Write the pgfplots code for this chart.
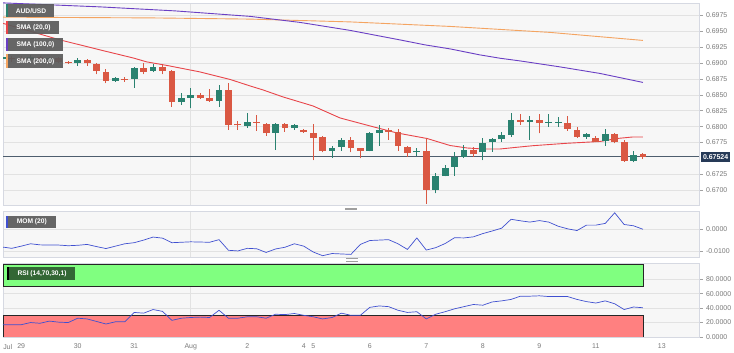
\documentclass[border=0pt]{standalone}
\usepackage{fontspec}
\setmainfont{Liberation Sans}
\usepackage{pgfplots}
\usepackage{pgfplotstable}
\pgfplotsset{compat=1.18}

\definecolor{cgreen}{HTML}{2A8270}
\definecolor{cred}{HTML}{DA5843}
\definecolor{sma20}{HTML}{E8454A}
\definecolor{sma100}{HTML}{6A3FC4}
\definecolor{sma200}{HTML}{F4A461}
\definecolor{closeln}{HTML}{4E5E6E}
\definecolor{tagblue}{HTML}{263A57}
\definecolor{panelbg}{HTML}{F7F7F7}
\definecolor{panelbd}{HTML}{D6D9E2}
\definecolor{gridc}{HTML}{E2E2E2}
\definecolor{ticklbl}{HTML}{7A7A7A}
\definecolor{boxgray}{HTML}{5C5C5C}
\definecolor{indblue}{HTML}{4050D0}
\definecolor{rsigreen}{HTML}{80FF80}
\definecolor{rsired}{HTML}{FF8080}
\definecolor{rsibox}{HTML}{2E5C30}

% candles: i open high low close
\pgfplotstableread{
i O H L C
-7 0.69064 0.69174 0.69049 0.69096
-4 0.69057 0.69127 0.69033 0.69088
-2 0.69049 0.69096 0.69033 0.69072
1 0.68997 0.69085 0.68959 0.69049
5 0.68719 0.68774 0.68703 0.68758
7 0.68750 0.68943 0.68613 0.68918
9 0.68876 0.68981 0.68855 0.68943
12 0.68388 0.68525 0.68341 0.68456
13 0.68456 0.68604 0.68289 0.68491
16 0.68404 0.68656 0.68314 0.68577
19 0.68016 0.68211 0.67984 0.68079
22 0.67906 0.68050 0.67634 0.68042
24 0.67975 0.68038 0.67948 0.68022
28 0.67618 0.67701 0.67513 0.67670
29 0.67686 0.67827 0.67618 0.67791
32 0.67618 0.67912 0.67610 0.67896
33 0.67906 0.68027 0.67701 0.67948
37 0.67597 0.67660 0.67544 0.67618
39 0.67005 0.67267 0.66953 0.67225
40 0.67230 0.67398 0.67217 0.67355
41 0.67371 0.67597 0.67225 0.67528
42 0.67528 0.67712 0.67513 0.67634
44 0.67597 0.67818 0.67476 0.67739
45 0.67755 0.67815 0.67607 0.67807
46 0.67802 0.67912 0.67764 0.67870
47 0.67870 0.68220 0.67843 0.68105
49 0.68074 0.68173 0.67791 0.68101
51 0.68063 0.68195 0.68000 0.68074
52 0.68066 0.68157 0.68000 0.68074
55 0.67843 0.67896 0.67807 0.67881
57 0.67775 0.67959 0.67697 0.67881
60 0.67461 0.67618 0.67440 0.67555
}\greenc

\pgfplotstableread{
i O H L C
-6 0.69072 0.69112 0.69017 0.69057
-5 0.69080 0.69112 0.69033 0.69049
-3 0.69088 0.69104 0.69025 0.69049
-1 0.69072 0.69088 0.69002 0.69017
0 0.69022 0.69033 0.68986 0.68997
2 0.69049 0.69064 0.68959 0.68997
3 0.68981 0.68994 0.68824 0.68876
4 0.68865 0.68907 0.68682 0.68719
6 0.68755 0.68786 0.68708 0.68745
8 0.68928 0.68997 0.68824 0.68865
10 0.68943 0.68970 0.68824 0.68876
11 0.68876 0.68891 0.68314 0.68388
14 0.68491 0.68522 0.68436 0.68447
15 0.68447 0.68588 0.68393 0.68404
17 0.68577 0.68682 0.67948 0.68027
18 0.68035 0.68090 0.67948 0.68019
20 0.68069 0.68184 0.67932 0.68058
21 0.68042 0.68050 0.67858 0.67896
23 0.68042 0.68053 0.67921 0.67975
25 0.67948 0.67964 0.67901 0.67912
26 0.67896 0.68042 0.67476 0.67827
27 0.67833 0.67858 0.67597 0.67618
30 0.67791 0.67843 0.67597 0.67660
31 0.67657 0.67665 0.67503 0.67618
34 0.67948 0.67975 0.67791 0.67921
35 0.67921 0.67964 0.67618 0.67701
36 0.67686 0.67697 0.67524 0.67591
38 0.67618 0.67818 0.66785 0.67005
43 0.67634 0.67686 0.67524 0.67566
48 0.68105 0.68195 0.68027 0.68074
50 0.68101 0.68195 0.67896 0.68053
53 0.68063 0.68173 0.67932 0.67964
54 0.67948 0.68000 0.67827 0.67843
56 0.67827 0.67858 0.67755 0.67764
58 0.67881 0.67896 0.67739 0.67764
59 0.67764 0.67791 0.67450 0.67461
61 0.67563 0.67582 0.67492 0.67524
}\redc

\pgfplotstableread{
i p
-6.93 0.69623
-0.88 0.69363
3.37 0.69206
6.87 0.69080
8.35 0.69017
10.47 0.68962
13.98 0.68860
17.17 0.68742
19.29 0.68640
20.67 0.68577
22.79 0.68467
25.98 0.68325
28.84 0.68137
32.03 0.68011
34.89 0.67901
38.08 0.67814
40.52 0.67704
42.32 0.67665
44.02 0.67649
45.83 0.67649
47.95 0.67681
49.33 0.67701
52.94 0.67739
56.44 0.67767
58.25 0.67814
59.94 0.67838
61.00 0.67838
}\smaA

\pgfplotstableread{
i p
-6.93 0.69945
3.37 0.69882
11.33 0.69819
19.29 0.69733
24.6 0.69638
29.9 0.69513
35.21 0.69363
37.87 0.69285
40.52 0.69222
43.71 0.69127
45.83 0.69075
47.95 0.69033
52.2 0.68939
56.44 0.68836
61.0 0.68695
}\smaB

\pgfplotstableread{
i p
-6.93 0.69720
8.67 0.69709
19.29 0.69690
29.9 0.69646
40.52 0.69575
51.14 0.69481
61.0 0.69355
}\smaC

\pgfplotstableread{
i v
-7 -0.0082
-6 -0.0088
-5 -0.0078
-4 -0.0067
-3 -0.0072
-2 -0.0073
-1 -0.0073
0 -0.0076
1 -0.0074
2 -0.0070
3 -0.0080
4 -0.0089
5 -0.0078
6 -0.0067
7 -0.0062
8 -0.0050
9 -0.0036
10 -0.0041
11 -0.0062
12 -0.0060
13 -0.0058
14 -0.0059
15 -0.0060
16 -0.0048
17 -0.0097
18 -0.0100
19 -0.0088
20 -0.0090
21 -0.0107
22 -0.0091
23 -0.0083
24 -0.0067
25 -0.0078
26 -0.0105
27 -0.0122
28 -0.0112
29 -0.0114
30 -0.0116
31 -0.0070
32 -0.0052
33 -0.0050
34 -0.0048
35 -0.0067
36 -0.0093
37 -0.0040
38 -0.0096
39 -0.0085
40 -0.0066
41 -0.0039
42 -0.0040
43 -0.0035
44 -0.0020
45 -0.0008
46 0.0005
47 0.0046
48 0.0039
49 0.0033
50 0.0040
51 0.0033
52 0.0014
53 0.0002
54 -0.0006
55 0.0019
56 0.0019
57 0.0027
58 0.0076
59 0.0022
60 0.0016
61 0.0000
}\momdata

\pgfplotstableread{
i v
-7 17
-6 17
-5 17
-4 20
-3 19
-2 22
-1 20.5
0 20
1 26
2 25
3 21.5
4 18
5 21
6 21
7 34
8 33
9 38
10 35.5
11 23
12 26
13 27
14 27.5
15 27
16 37
17 26
18 26
19 28
20 28
21 26
22 31.5
23 31
24 32.5
25 30
26 28
27 25
28 27
29 33
30 30
31 30
32 41
33 43
34 42
35 37
36 34
37 35
38 25
39 31.5
40 35
41 39
42 42
43 45
44 44
45 48.5
46 50
47 52
48 56.5
49 56.5
50 57
51 56
52 56
53 56
54 52
55 49
56 47
57 50
58 46
59 38
60 41.5
61 40.5
}\rsidata

\pgfplotsset{
  panel/.style={
    scale only axis, anchor=south west, width=696bp,
    xmin=-6.93, xmax=66.95,
    axis background/.style={fill=panelbg},
    axis line style={draw=panelbd, line width=0.7bp},
    ytick pos=right, yticklabel pos=right,
    tick align=outside, major tick length=3.5bp,
    ytick style={draw=ticklbl!70, line width=0.5bp},
    xtick style={draw=none},
    ymajorgrids,
    grid style={draw=gridc, line width=0.6bp},
    scaled y ticks=false,
    yticklabel style={font=\fontsize{7}{8}\selectfont, text=ticklbl,
      /pgf/number format/fixed, /pgf/number format/fixed zerofill,
      /pgf/number format/precision=4, /pgf/number format/assume math mode=true},
    xticklabel style={font=\fontsize{7}{8}\selectfont, text=ticklbl},
    clip mode=individual,
  },
  wick/.style={only marks, mark=*, mark size=0pt, mark options={draw=none, fill=none},
    error bars/.cd, y dir=plus, y explicit,
    error mark=none, error bar style={draw=#1, line width=1bp}},
  body/.style={only marks, mark=*, mark size=0pt, mark options={draw=none, fill=none},
    error bars/.cd, y dir=plus, y explicit,
    error mark=none, error bar style={draw=#1, line width=6.8bp, line cap=butt}},
}

\newcommand\chartlabel[7]{%
  \fill[#1, opacity=0.93] (#2,#3) rectangle (#4,#5);
  \fill[#6] (#2,#3) rectangle ({#2+2},#5);
  \node[text=white, font=\fontsize{6.7}{7}\selectfont\bfseries, inner sep=0pt]
    at ({(#2+#4)/2+1},{(#3+#5)/2}) {#7};
}

\begin{document}
\begin{tikzpicture}
\fill[white] (0bp,0bp) rectangle (734bp,353bp);
\useasboundingbox (0bp,0bp) rectangle (734bp,353bp);

% ---------- main price panel ----------
\begin{axis}[panel, at={(3bp,148bp)}, height=202bp,
  ymin=0.66769, ymax=0.69943,
  ytick={0.6700,0.6725,0.6775,0.6800,0.6825,0.6850,0.6875,0.6900,0.6925,0.6950,0.6975},
  xtick={13}, xticklabels={}, xmajorgrids]
\addplot[sma200, line width=0.9bp] table[x=i, y=p] {\smaC};
\addplot[sma100, line width=0.9bp] table[x=i, y=p] {\smaB};
\addplot[sma20, line width=0.9bp] table[x=i, y=p] {\smaA};
\addplot[closeln, line width=1.1bp] coordinates {(-6.93,0.67524) (66.95,0.67524)};
\addplot[wick=cgreen] table[x=i, y=L, y error plus expr=\thisrow{H}-\thisrow{L}] {\greenc};
\addplot[body=cgreen] table[x=i, y=O, y error plus expr={max(\thisrow{C}-\thisrow{O},0.0001)}] {\greenc};
\addplot[wick=cred] table[x=i, y=L, y error plus expr=\thisrow{H}-\thisrow{L}] {\redc};
\addplot[body=cred] table[x=i, y=C, y error plus expr={max(\thisrow{O}-\thisrow{C},0.0001)}] {\redc};
\node[fill=tagblue, text=white, font=\fontsize{7}{8}\selectfont\bfseries, anchor=west,
  inner xsep=1.8bp, inner ysep=0pt, minimum height=10.6bp, xshift=2bp]
  at (axis cs:66.95,0.67524) {0.67524};
\end{axis}

% ---------- momentum panel ----------
\begin{axis}[panel, at={(3bp,96bp)}, height=45.3bp,
  ymin=-0.0128, ymax=0.0081,
  ytick={-0.01,0},
  xtick={13}, xticklabels={}, xmajorgrids]
\addplot[indblue, line width=0.7bp] table[x=i, y=v] {\momdata};
\end{axis}

% ---------- RSI panel ----------
\begin{axis}[panel, at={(3bp,16bp)}, height=73.7bp,
  ymin=0, ymax=102,
  ytick={0,20,40,60,80},
  xtick={-6.43,-5,1,7,13,19,25,26,32,38,44,50,56,63},
  xticklabels={Jul,29,30,31,Aug,2,4,5,6,7,8,9,11,13},
  extra x ticks={13}, extra x tick labels={},
  extra x tick style={grid=major}]
\addplot[fill=rsigreen, draw=black!85, line width=0.8bp] coordinates {(-6.93,70) (61,70) (61,100) (-6.93,100)} -- cycle;
\addplot[fill=rsired, draw=black!85, line width=0.8bp] coordinates {(-6.93,0) (61,0) (61,30) (-6.93,30)} -- cycle;
\addplot[indblue, line width=0.7bp] table[x=i, y=v] {\rsidata};
\end{axis}

\begin{scope}[x=1bp, y=1bp]
\chartlabel{boxgray}{6}{335.7}{54}{349}{cgreen}{AUD/USD}
\chartlabel{boxgray}{6}{318.7}{59}{332}{sma20}{SMA (20,0)}
\chartlabel{boxgray}{6}{302}{63}{315.3}{sma100}{SMA (100,0)}
\chartlabel{boxgray}{6}{284.7}{63}{298.7}{sma200}{SMA (200,0)}
\chartlabel{boxgray}{5.6}{124.5}{56}{137}{indblue}{MOM (20)}
\chartlabel{rsibox}{7}{72.5}{75}{85.5}{black}{RSI (14,70,30,1)}
% panel resize handles
\fill[gray!75] (345,143.2) rectangle (357,144.8);
\fill[gray!75] (346,93.6) rectangle (358,94.6);
\fill[gray!75] (346,91.4) rectangle (358,92.4);
\end{scope}
\end{tikzpicture}
\end{document}
